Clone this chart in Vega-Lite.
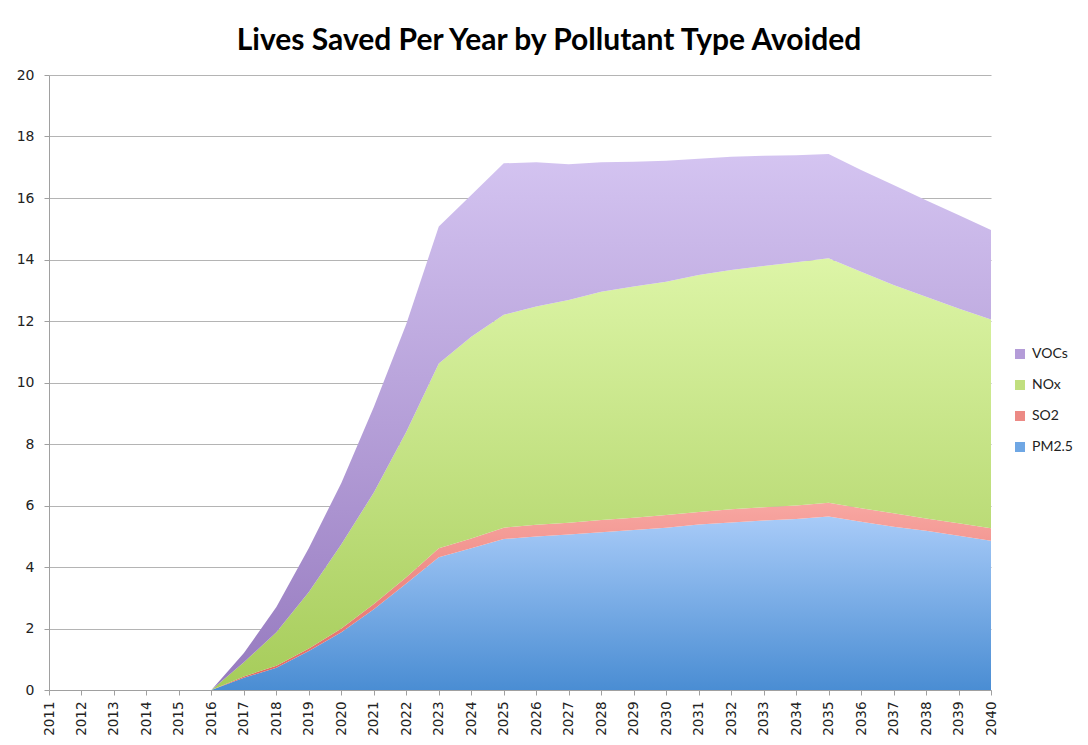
{
  "$schema": "https://vega.github.io/schema/vega-lite/v6.json",
  "autosize": "none",
  "width": 942,
  "height": 615,
  "padding": {"left": 49, "top": 75, "right": 97, "bottom": 55},
  "background": "white",
  "title": {
    "text": "Lives Saved Per Year by Pollutant Type Avoided",
    "font": "Lato",
    "fontSize": 30,
    "fontWeight": "bold",
    "color": "#000000",
    "anchor": "middle",
    "frame": "group",
    "dx": 29,
    "offset": 12
  },
  "data": {
    "values": [
      {"year": 2011, "pollutant": "PM2.5", "lives": 0}, {"year": 2011, "pollutant": "SO2", "lives": 0}, {"year": 2011, "pollutant": "NOx", "lives": 0}, {"year": 2011, "pollutant": "VOCs", "lives": 0},
      {"year": 2012, "pollutant": "PM2.5", "lives": 0}, {"year": 2012, "pollutant": "SO2", "lives": 0}, {"year": 2012, "pollutant": "NOx", "lives": 0}, {"year": 2012, "pollutant": "VOCs", "lives": 0},
      {"year": 2013, "pollutant": "PM2.5", "lives": 0}, {"year": 2013, "pollutant": "SO2", "lives": 0}, {"year": 2013, "pollutant": "NOx", "lives": 0}, {"year": 2013, "pollutant": "VOCs", "lives": 0},
      {"year": 2014, "pollutant": "PM2.5", "lives": 0}, {"year": 2014, "pollutant": "SO2", "lives": 0}, {"year": 2014, "pollutant": "NOx", "lives": 0}, {"year": 2014, "pollutant": "VOCs", "lives": 0},
      {"year": 2015, "pollutant": "PM2.5", "lives": 0}, {"year": 2015, "pollutant": "SO2", "lives": 0}, {"year": 2015, "pollutant": "NOx", "lives": 0}, {"year": 2015, "pollutant": "VOCs", "lives": 0},
      {"year": 2016, "pollutant": "PM2.5", "lives": 0}, {"year": 2016, "pollutant": "SO2", "lives": 0}, {"year": 2016, "pollutant": "NOx", "lives": 0}, {"year": 2016, "pollutant": "VOCs", "lives": 0},
      {"year": 2017, "pollutant": "PM2.5", "lives": 0.40}, {"year": 2017, "pollutant": "SO2", "lives": 0.04}, {"year": 2017, "pollutant": "NOx", "lives": 0.46}, {"year": 2017, "pollutant": "VOCs", "lives": 0.30},
      {"year": 2018, "pollutant": "PM2.5", "lives": 0.72}, {"year": 2018, "pollutant": "SO2", "lives": 0.07}, {"year": 2018, "pollutant": "NOx", "lives": 1.09}, {"year": 2018, "pollutant": "VOCs", "lives": 0.82},
      {"year": 2019, "pollutant": "PM2.5", "lives": 1.27}, {"year": 2019, "pollutant": "SO2", "lives": 0.08}, {"year": 2019, "pollutant": "NOx", "lives": 1.84}, {"year": 2019, "pollutant": "VOCs", "lives": 1.43},
      {"year": 2020, "pollutant": "PM2.5", "lives": 1.88}, {"year": 2020, "pollutant": "SO2", "lives": 0.12}, {"year": 2020, "pollutant": "NOx", "lives": 2.74}, {"year": 2020, "pollutant": "VOCs", "lives": 1.99},
      {"year": 2021, "pollutant": "PM2.5", "lives": 2.63}, {"year": 2021, "pollutant": "SO2", "lives": 0.17}, {"year": 2021, "pollutant": "NOx", "lives": 3.62}, {"year": 2021, "pollutant": "VOCs", "lives": 2.78},
      {"year": 2022, "pollutant": "PM2.5", "lives": 3.46}, {"year": 2022, "pollutant": "SO2", "lives": 0.21}, {"year": 2022, "pollutant": "NOx", "lives": 4.73}, {"year": 2022, "pollutant": "VOCs", "lives": 3.50},
      {"year": 2023, "pollutant": "PM2.5", "lives": 4.32}, {"year": 2023, "pollutant": "SO2", "lives": 0.29}, {"year": 2023, "pollutant": "NOx", "lives": 6.01}, {"year": 2023, "pollutant": "VOCs", "lives": 4.45},
      {"year": 2024, "pollutant": "PM2.5", "lives": 4.61}, {"year": 2024, "pollutant": "SO2", "lives": 0.32}, {"year": 2024, "pollutant": "NOx", "lives": 6.56}, {"year": 2024, "pollutant": "VOCs", "lives": 4.61},
      {"year": 2025, "pollutant": "PM2.5", "lives": 4.91}, {"year": 2025, "pollutant": "SO2", "lives": 0.37}, {"year": 2025, "pollutant": "NOx", "lives": 6.92}, {"year": 2025, "pollutant": "VOCs", "lives": 4.93},
      {"year": 2026, "pollutant": "PM2.5", "lives": 4.99}, {"year": 2026, "pollutant": "SO2", "lives": 0.38}, {"year": 2026, "pollutant": "NOx", "lives": 7.10}, {"year": 2026, "pollutant": "VOCs", "lives": 4.69},
      {"year": 2027, "pollutant": "PM2.5", "lives": 5.06}, {"year": 2027, "pollutant": "SO2", "lives": 0.38}, {"year": 2027, "pollutant": "NOx", "lives": 7.24}, {"year": 2027, "pollutant": "VOCs", "lives": 4.42},
      {"year": 2028, "pollutant": "PM2.5", "lives": 5.13}, {"year": 2028, "pollutant": "SO2", "lives": 0.40}, {"year": 2028, "pollutant": "NOx", "lives": 7.42}, {"year": 2028, "pollutant": "VOCs", "lives": 4.21},
      {"year": 2029, "pollutant": "PM2.5", "lives": 5.20}, {"year": 2029, "pollutant": "SO2", "lives": 0.40}, {"year": 2029, "pollutant": "NOx", "lives": 7.52}, {"year": 2029, "pollutant": "VOCs", "lives": 4.06},
      {"year": 2030, "pollutant": "PM2.5", "lives": 5.28}, {"year": 2030, "pollutant": "SO2", "lives": 0.41}, {"year": 2030, "pollutant": "NOx", "lives": 7.59}, {"year": 2030, "pollutant": "VOCs", "lives": 3.93},
      {"year": 2031, "pollutant": "PM2.5", "lives": 5.38}, {"year": 2031, "pollutant": "SO2", "lives": 0.41}, {"year": 2031, "pollutant": "NOx", "lives": 7.71}, {"year": 2031, "pollutant": "VOCs", "lives": 3.78},
      {"year": 2032, "pollutant": "PM2.5", "lives": 5.45}, {"year": 2032, "pollutant": "SO2", "lives": 0.43}, {"year": 2032, "pollutant": "NOx", "lives": 7.78}, {"year": 2032, "pollutant": "VOCs", "lives": 3.68},
      {"year": 2033, "pollutant": "PM2.5", "lives": 5.51}, {"year": 2033, "pollutant": "SO2", "lives": 0.43}, {"year": 2033, "pollutant": "NOx", "lives": 7.85}, {"year": 2033, "pollutant": "VOCs", "lives": 3.58},
      {"year": 2034, "pollutant": "PM2.5", "lives": 5.56}, {"year": 2034, "pollutant": "SO2", "lives": 0.44}, {"year": 2034, "pollutant": "NOx", "lives": 7.91}, {"year": 2034, "pollutant": "VOCs", "lives": 3.48},
      {"year": 2035, "pollutant": "PM2.5", "lives": 5.64}, {"year": 2035, "pollutant": "SO2", "lives": 0.45}, {"year": 2035, "pollutant": "NOx", "lives": 7.95}, {"year": 2035, "pollutant": "VOCs", "lives": 3.39},
      {"year": 2036, "pollutant": "PM2.5", "lives": 5.47}, {"year": 2036, "pollutant": "SO2", "lives": 0.44}, {"year": 2036, "pollutant": "NOx", "lives": 7.69}, {"year": 2036, "pollutant": "VOCs", "lives": 3.31},
      {"year": 2037, "pollutant": "PM2.5", "lives": 5.31}, {"year": 2037, "pollutant": "SO2", "lives": 0.44}, {"year": 2037, "pollutant": "NOx", "lives": 7.42}, {"year": 2037, "pollutant": "VOCs", "lives": 3.25},
      {"year": 2038, "pollutant": "PM2.5", "lives": 5.18}, {"year": 2038, "pollutant": "SO2", "lives": 0.40}, {"year": 2038, "pollutant": "NOx", "lives": 7.21}, {"year": 2038, "pollutant": "VOCs", "lives": 3.14},
      {"year": 2039, "pollutant": "PM2.5", "lives": 5.02}, {"year": 2039, "pollutant": "SO2", "lives": 0.40}, {"year": 2039, "pollutant": "NOx", "lives": 6.99}, {"year": 2039, "pollutant": "VOCs", "lives": 3.04},
      {"year": 2040, "pollutant": "PM2.5", "lives": 4.85}, {"year": 2040, "pollutant": "SO2", "lives": 0.41}, {"year": 2040, "pollutant": "NOx", "lives": 6.79}, {"year": 2040, "pollutant": "VOCs", "lives": 2.91}
    ]
  },
  "transform": [
    {
      "lookup": "pollutant",
      "from": {
        "data": {"values": [
          {"pollutant": "PM2.5", "layer": 1},
          {"pollutant": "SO2", "layer": 2},
          {"pollutant": "NOx", "layer": 3},
          {"pollutant": "VOCs", "layer": 4}
        ]},
        "key": "pollutant",
        "fields": ["layer"]
      }
    }
  ],
  "mark": {"type": "area", "interpolate": "linear", "opacity": 1},
  "encoding": {
    "x": {
      "field": "year",
      "type": "ordinal",
      "scale": {"type": "point", "padding": 0},
      "axis": {
        "title": null,
        "labelAngle": -90,
        "labelFont": "DejaVu Sans",
        "labelFontSize": 13.5,
        "labelColor": "#222222",
        "labelPadding": 6,
        "domainColor": "#a0a0a0",
        "tickColor": "#a0a0a0",
        "tickSize": 5,
        "grid": false
      }
    },
    "y": {
      "field": "lives",
      "type": "quantitative",
      "stack": "zero",
      "scale": {"domain": [0, 20], "nice": false},
      "axis": {
        "title": null,
        "values": [0, 2, 4, 6, 8, 10, 12, 14, 16, 18, 20],
        "labelFont": "DejaVu Sans",
        "labelFontSize": 14,
        "labelColor": "#222222",
        "labelPadding": 10,
        "domainColor": "#a0a0a0",
        "tickColor": "#a0a0a0",
        "tickSize": 5,
        "grid": true,
        "gridColor": "#b4b4b4",
        "gridWidth": 1.2
      }
    },
    "order": {"field": "layer", "type": "quantitative", "sort": "ascending"},
    "color": {
      "field": "pollutant",
      "type": "nominal",
      "scale": {
        "domain": ["VOCs", "NOx", "SO2", "PM2.5"],
        "range": ["#b49cd8", "#c1df7f", "#ec8a85", "#6fa7e4"]
      },
      "condition": [
        {"test": "datum.pollutant === 'PM2.5'", "value": {"gradient": "linear", "x1": 0, "y1": 0, "x2": 0, "y2": 1, "stops": [{"offset": 0, "color": "#a8cbf8"}, {"offset": 1, "color": "#4a8dd3"}]}},
        {"test": "datum.pollutant === 'SO2'", "value": {"gradient": "linear", "x1": 0, "y1": 0, "x2": 0, "y2": 1, "stops": [{"offset": 0, "color": "#f8a7a2"}, {"offset": 1, "color": "#e0625c"}]}},
        {"test": "datum.pollutant === 'NOx'", "value": {"gradient": "linear", "x1": 0, "y1": 0, "x2": 0, "y2": 1, "stops": [{"offset": 0, "color": "#ddf5a7"}, {"offset": 1, "color": "#a6cc5a"}]}},
        {"test": "datum.pollutant === 'VOCs'", "value": {"gradient": "linear", "x1": 0, "y1": 0, "x2": 0, "y2": 1, "stops": [{"offset": 0, "color": "#d4c4f1"}, {"offset": 1, "color": "#967abf"}]}}
      ],
      "legend": {
        "title": null,
        "orient": "none",
        "legendX": 964,
        "legendY": 272,
        "symbolType": "square",
        "symbolSize": 100,
        "symbolStrokeWidth": 0,
        "labelFont": "Lato",
        "labelFontSize": 14,
        "labelColor": "#222222",
        "labelOffset": 5,
        "rowPadding": 17
      }
    }
  },
  "config": {
    "view": {"stroke": null}
  }
}
